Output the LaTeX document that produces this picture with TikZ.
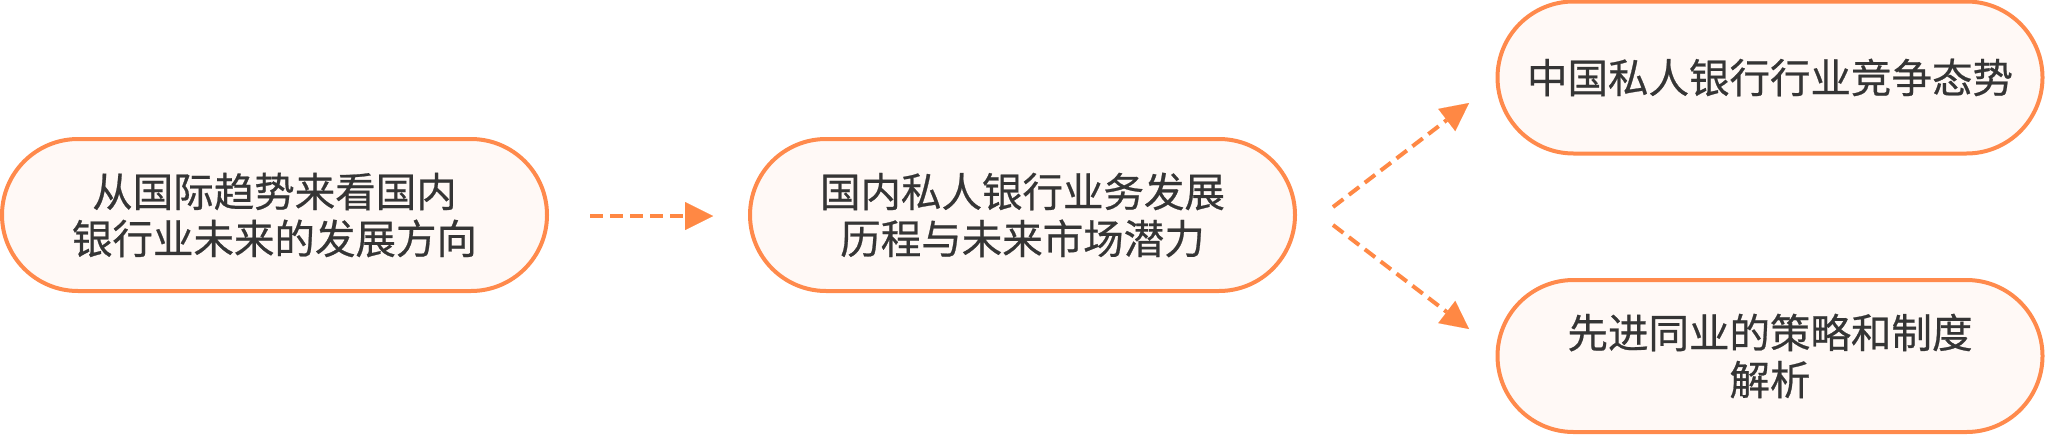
\documentclass[tikz,border=0pt]{standalone}
\usepackage{fontspec}
\setmainfont{Noto Sans CJK SC}[FakeBold=0.6]
\usetikzlibrary{arrows.meta}
\definecolor{orangeline}{HTML}{FF8A4C}
\definecolor{orangearrow}{HTML}{FF8844}
\definecolor{boxfill}{HTML}{FFF9F6}
\definecolor{txt}{HTML}{353535}
\tikzset{
  pill/.style={draw=orangeline, line width=4pt, fill=boxfill, rounded corners=76pt,
    minimum width=545pt, minimum height=152pt, align=center, text=txt,
    font=\fontsize{40.5pt}{47pt}\selectfont, inner sep=0pt},
  flow/.style={draw=orangearrow, line width=4pt, dash pattern=on 13pt off 7pt,
    -{Triangle[length=28pt,width=28pt,line width=0.01pt]}}
}
\begin{document}
\begin{tikzpicture}[x=1pt,y=-1pt]
\useasboundingbox (0,0) rectangle (2045,434);
\node[pill] (a) at (274.5,215) {从国际趋势来看国内\\银行业未来的发展方向};
\node[pill] (b) at (1022.5,215) {国内私人银行业务发展\\历程与未来市场潜力};
\node[pill] (c) at (1770,77.5) {中国私人银行行业竞争态势};
\node[pill] (d) at (1770,356) {先进同业的策略和制度\\解析};
\coordinate (a1) at (590,216);
\coordinate (a2) at (713,216);
\coordinate (b1) at (1333,207);
\coordinate (b2) at (1469,103);
\coordinate (b3) at (1333,225);
\coordinate (b4) at (1469,329);
\draw[flow] (a1) -- (a2);
\draw[flow] (b1) -- (b2);
\draw[flow] (b3) -- (b4);
\end{tikzpicture}
\end{document}
